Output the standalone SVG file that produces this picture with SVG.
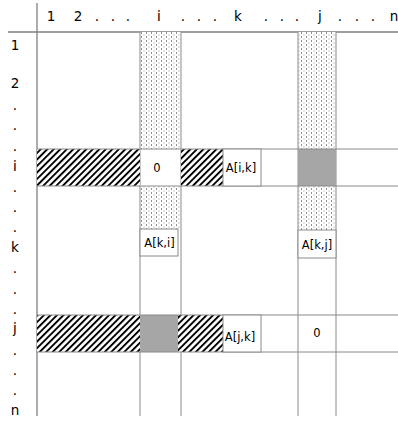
<svg xmlns="http://www.w3.org/2000/svg" width="398" height="421" viewBox="0 0 398 421">
  <defs>
    <pattern id="dots" patternUnits="userSpaceOnUse" width="5" height="4">
      <rect x="0" y="0" width="5" height="4" fill="#ffffff"/>
      <rect x="1" y="0.5" width="1" height="1" fill="#222222"/>
      <rect x="3.5" y="2.5" width="1" height="1" fill="#9a9a9a"/>
    </pattern>
    <pattern id="hatch" patternUnits="userSpaceOnUse" width="4.6" height="10" patternTransform="rotate(45)">
      <rect x="0" y="0" width="4.6" height="10" fill="#ffffff"/>
      <rect x="0" y="0" width="1.9" height="10" fill="#000000"/>
    </pattern>
  </defs>
  <style>
    .lbl { font-family: "DejaVu Sans", "Liberation Sans", sans-serif; font-size: 13.5px; fill: #000; text-anchor: middle; }
    .cell { font-family: "DejaVu Sans", "Liberation Sans", sans-serif; font-size: 11.5px; fill: #000; text-anchor: middle; }
    .axis { stroke: #808080; stroke-width: 1.3; fill: none; }
    .grid { stroke: #8a8a8a; stroke-width: 1; fill: none; }
    .box { stroke: #8a8a8a; stroke-width: 1; fill: #ffffff; }
  </style>
  <rect width="398" height="421" fill="#ffffff"/>

  <g id="axes">
    <line class="axis" x1="8" y1="32" x2="398" y2="32"/>
    <line class="axis" x1="37" y1="3" x2="37" y2="416"/>
  </g>

  <g id="column-labels">
    <text class="lbl" x="51" y="20.5">1</text>
    <text class="lbl" x="78" y="20.5">2</text>
    <text class="lbl" x="97" y="20.5">.</text>
    <text class="lbl" x="113" y="20.5">.</text>
    <text class="lbl" x="128" y="20.5">.</text>
    <text class="lbl" x="159" y="20.5">i</text>
    <text class="lbl" x="183" y="20.5">.</text>
    <text class="lbl" x="199" y="20.5">.</text>
    <text class="lbl" x="215" y="20.5">.</text>
    <text class="lbl" x="238" y="20.5">k</text>
    <text class="lbl" x="266" y="20.5">.</text>
    <text class="lbl" x="282" y="20.5">.</text>
    <text class="lbl" x="297" y="20.5">.</text>
    <text class="lbl" x="320" y="20.5">j</text>
    <text class="lbl" x="340" y="20.5">.</text>
    <text class="lbl" x="357" y="20.5">.</text>
    <text class="lbl" x="373" y="20.5">.</text>
    <text class="lbl" x="394" y="20.5">n</text>
  </g>

  <g id="row-labels">
    <text class="lbl" x="15" y="49.5">1</text>
    <text class="lbl" x="15" y="87.5">2</text>
    <text class="lbl" x="15" y="109.5">.</text>
    <text class="lbl" x="15" y="129.5">.</text>
    <text class="lbl" x="15" y="150.5">.</text>
    <text class="lbl" x="15" y="170.5">i</text>
    <text class="lbl" x="15" y="191.5">.</text>
    <text class="lbl" x="15" y="211.5">.</text>
    <text class="lbl" x="15" y="231.5">.</text>
    <text class="lbl" x="15" y="252">k</text>
    <text class="lbl" x="15" y="272.5">.</text>
    <text class="lbl" x="15" y="293.5">.</text>
    <text class="lbl" x="15" y="313.5">.</text>
    <text class="lbl" x="15" y="332.5">j</text>
    <text class="lbl" x="15" y="354.5">.</text>
    <text class="lbl" x="15" y="374.5">.</text>
    <text class="lbl" x="15" y="394.5">.</text>
    <text class="lbl" x="15" y="415">n</text>
  </g>

  <g id="column-i">
    <rect x="140" y="32" width="41" height="117" fill="url(#dots)"/>
    <rect x="140" y="186" width="41" height="43" fill="url(#dots)"/>
    <line class="grid" x1="140" y1="32" x2="140" y2="416"/>
    <line class="grid" x1="181" y1="32" x2="181" y2="416"/>
  </g>

  <g id="column-j">
    <rect x="298" y="32" width="38" height="117" fill="url(#dots)"/>
    <rect x="298" y="186" width="38" height="44" fill="url(#dots)"/>
    <line class="grid" x1="298" y1="32" x2="298" y2="416"/>
    <line class="grid" x1="336" y1="32" x2="336" y2="416"/>
  </g>

  <g id="row-i">
    <rect x="37" y="149" width="103" height="37" fill="url(#hatch)"/>
    <rect x="181" y="149" width="42" height="37" fill="url(#hatch)"/>
    <rect x="298" y="149" width="38" height="37" fill="#a6a6a6"/>
    <line class="grid" x1="37" y1="149" x2="398" y2="149"/>
    <line class="grid" x1="37" y1="186" x2="398" y2="186"/>
  </g>

  <g id="row-j">
    <rect x="37" y="315" width="103" height="37" fill="url(#hatch)"/>
    <rect x="140" y="315" width="38" height="37" fill="#a6a6a6"/>
    <rect x="178" y="315" width="45" height="37" fill="url(#hatch)"/>
    <line class="grid" x1="37" y1="315" x2="398" y2="315"/>
    <line class="grid" x1="37" y1="352" x2="398" y2="352"/>
  </g>

  <g id="cell-ii">
    <text class="cell" x="157" y="172">0</text>
  </g>
  <g id="cell-ik">
    <rect class="box" x="223" y="149" width="38" height="37"/>
    <text class="cell" x="241" y="172">A[i,k]</text>
  </g>
  <g id="cell-ki">
    <rect class="box" x="140" y="229" width="38" height="27"/>
    <text class="cell" x="159.5" y="247">A[k,i]</text>
  </g>
  <g id="cell-kj">
    <rect class="box" x="298" y="230" width="38" height="28"/>
    <text class="cell" x="317" y="249">A[k,j]</text>
  </g>
  <g id="cell-jk">
    <rect class="box" x="223" y="315" width="38" height="37"/>
    <text class="cell" x="240" y="341">A[j,k]</text>
  </g>
  <g id="cell-jj">
    <text class="cell" x="317" y="337">0</text>
  </g>
</svg>
